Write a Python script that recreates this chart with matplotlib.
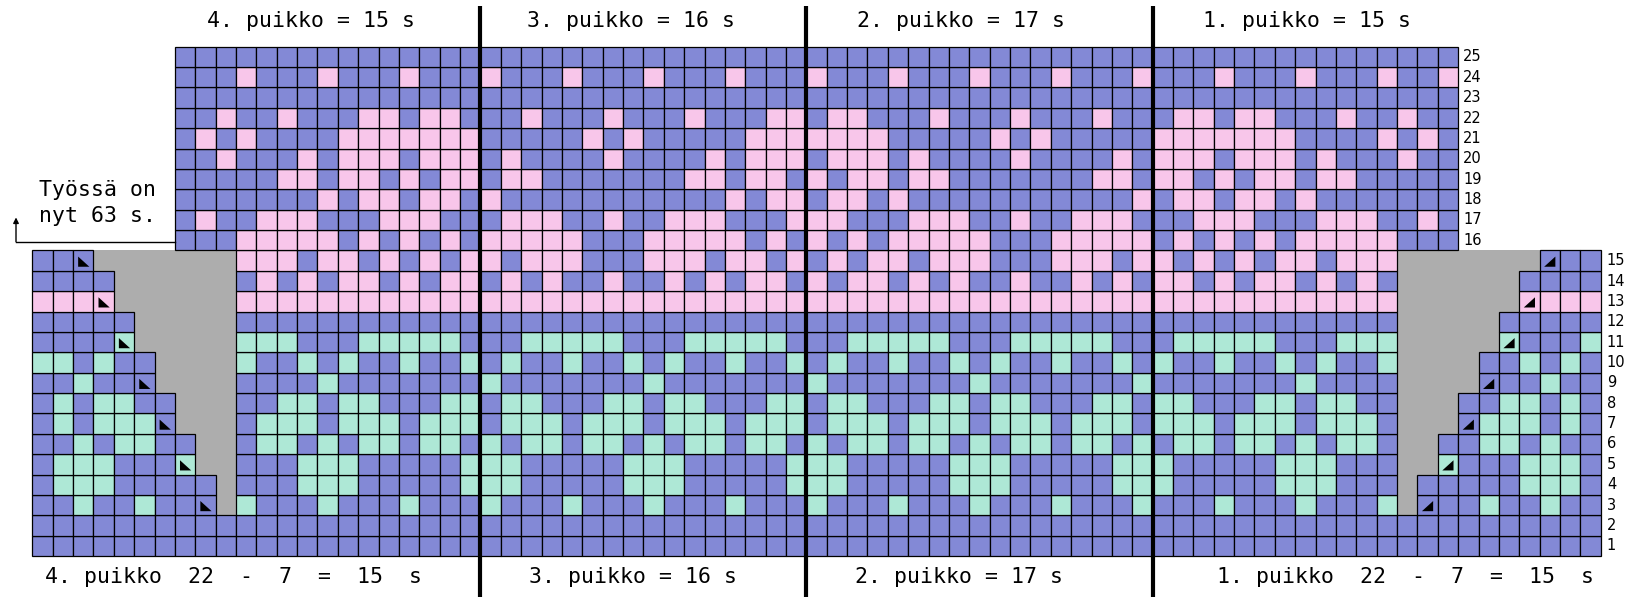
import matplotlib
matplotlib.use("Agg")
import matplotlib.pyplot as plt
from matplotlib.patches import Rectangle, Polygon

# ---------------- colours ----------------
COLORS = {"B": "#8389D6", "P": "#F8C6EA", "G": "#AEE8D6", "X": "#ADADAD"}

# ---------------- data: bottom part, rows 1..15, 77 stitches (cols 0..76) ----------------
row_01 = ("BBBBBBBBBBB" "BBBBBBBBBBB" "BBBBBBBBBBB" "BBBBBBBBBBB" "BBBBBBBBBBB" "BBBBBBBBBBB" "BBBBBBBBBBB")
row_02 = ("BBBBBBBBBBB" "BBBBBBBBBBB" "BBBBBBBBBBB" "BBBBBBBBBBB" "BBBBBBBBBBB" "BBBBBBBBBBB" "BBBBBBBBBBB")
row_03 = ("BBGBBGBBB" "X"
          "GBBBGBBB" "GBBBGBBB" "GBBBGBBB" "GBBBGBBB" "GBBBGBBB" "GBBBGBBB" "GBBBGBBB" "G"
          "X" "BBBGBBGBB")
row_04 = ("BGGGBBBBB" "X"
          "BBBGGGBB" "BBBGGGBB" "BBBGGGBB" "BBBGGGBB" "BBBGGGBB" "BBBGGGBB" "BBBGGGBB" "B"
          "X" "BBBBBGGGB")
row_05 = ("BGGGBBBG" "XX"
          "BBBGGGBB" "BBBGGGBB" "BBBGGGBB" "BBBGGGBB" "BBBGGGBB" "BBBGGGBB" "BBBGGGBB" "B"
          "XX" "GBBBGGGB")
row_06 = ("BBGBGGBB" "XX"
          "BGGBGBGG" "BGGBGBGG" "BGGBGBGG" "BGGBGBGG" "BGGBGBGG" "BGGBGBGG" "BGGBGBGG" "B"
          "XX" "BBGGBGBB")
row_07 = ("BGBGGGB" "XXX"
          "BGGGBGGG" "BGGGBGGG" "BGGGBGGG" "BGGGBGGG" "BGGGBGGG" "BGGGBGGG" "BGGGBGGG" "B"
          "XXX" "BGGGBGB")
row_08 = ("BGBGGBB" "XXX"
          "BBGGBGGB" "BBGGBGGB" "BBGGBGGB" "BBGGBGGB" "BBGGBGGB" "BBGGBGGB" "BBGGBGGB" "B"
          "XXX" "BBGGBGB")
row_09 = ("BBGBBB" "XXXX"
          "BBBBGBBB" "BBBBGBBB" "BBBBGBBB" "BBBBGBBB" "BBBBGBBB" "BBBBGBBB" "BBBBGBBB" "B"
          "XXXX" "BBBGBB")
row_10 = ("GGBGBB" "XXXX"
          "GBBGBGBB" "GBBGBGBB" "GBBGBGBB" "GBBGBGBB" "GBBGBGBB" "GBBGBGBB" "GBBGBGBB" "G"
          "XXXX" "BBGBGB")
row_11 = ("BBBBG" "XXXXX"
          "GGGBBBGG" "GGGBBBGG" "GGGBBBGG" "GGGBBBGG" "GGGBBBGG" "GGGBBBGG" "GGGBBBGG" "G"
          "XXXXX" "GBBBG")
row_12 = ("BBBBB" "XXXXX"
          "BBBBBBBB" "BBBBBBBB" "BBBBBBBB" "BBBBBBBB" "BBBBBBBB" "BBBBBBBB" "BBBBBBBB" "B"
          "XXXXX" "BBBBB")
row_13 = ("PPPP" "XXXXXX"
          "PPPPPPPP" "PPPPPPPP" "PPPPPPPP" "PPPPPPPP" "PPPPPPPP" "PPPPPPPP" "PPPPPPPP" "P"
          "XXXXXX" "PPPP")
row_14 = ("BBBB" "XXXXXX"
          "BPBPBPPBPB" "PPBPBPBBPB" "BPBPBPPBPB" "PPBPBPBBPB" "BPBPBPPBPB" "PPBPBPB"
          "XXXXXX" "BBBB")
row_15 = ("BBB" "XXXXXXX"
          "PPPBPPBPBP" "BPPBPPPBBB" "PPPBPPBPBP" "BPPBPPPBBB" "PPPBPPBPBP" "BPPBPPP"
          "XXXXXXX" "BBB")
bottom_rows = [row_01, row_02, row_03, row_04, row_05, row_06, row_07, row_08,
               row_09, row_10, row_11, row_12, row_13, row_14, row_15]

# ---------------- data: top part, rows 16..25, 63 stitches (cols 7..69) ----------------
TOP_FIRST_COL = 7
row_16 = "BBBPPPPPBP" "BPBPBPPPPP" "BBBPPPPPBP" "BPBPBPPPPP" "BBBPPPPPBP" "BPBPBPPPPP" "BBB"
row_17 = "BPBBPPPBBB" "PPPBBBPPPB" "BPBBPPPBBB" "PPPBBBPPPB" "BPBBPPPBBB" "PPPBBBPPPB" "BPB"
row_18 = "BBBBBBBPBP" "PBPPBPBBBB" "BBBBBBBPBP" "PBPPBPBBBB" "BBBBBBBPBP" "PBPPBPBBBB" "BBB"
row_19 = "BBBBBPPBPP" "BPBPPBPPBB" "BBBBBPPBPP" "BPBPPBPPBB" "BBBBBPPBPP" "BPBPPBPPBB" "BBB"
row_20 = "BBPBBBPBPP" "PBPPPBPBBB" "BPBBBBPBPP" "PBPPPBPBBB" "BPBBBBPBPP" "PBPPPBPBBB" "PBB"
row_21 = "BPBPBBBBPP" "PPPPPBBBBB" "PBPBBBBBPP" "PPPPPBBBBB" "PBPBBBBBPP" "PPPPPBBBBP" "BPB"
row_22 = "BBPBBPBBBP" "PBPPBBBPBB" "BPBBBPBBBP" "PBPPBBBPBB" "BPBBBPBBBP" "PBPPBBBPBB" "PBB"
row_23 = "BBBBBBBBBB" "BBBBBBBBBB" "BBBBBBBBBB" "BBBBBBBBBB" "BBBBBBBBBB" "BBBBBBBBBB" "BBB"
row_24 = "BBBPBBBPBB" "BPBBBPBBBP" "BBBPBBBPBB" "BPBBBPBBBP" "BBBPBBBPBB" "BPBBBPBBBP" "BBP"
row_25 = "BBBBBBBBBB" "BBBBBBBBBB" "BBBBBBBBBB" "BBBBBBBBBB" "BBBBBBBBBB" "BBBBBBBBBB" "BBB"
top_rows = [row_16, row_17, row_18, row_19, row_20, row_21, row_22, row_23, row_24, row_25]

# decrease symbols (row, col)
dec_left = [(15, 2), (13, 3), (11, 4), (9, 5), (7, 6), (5, 7), (3, 8)]
dec_right = [(15, 74), (13, 73), (11, 72), (9, 71), (7, 70), (5, 69), (3, 68)]

# section boundaries (thick lines) and labels
section_lines = [22, 38, 55]
top_titles = ["4. puikko = 15 s", "3. puikko = 16 s", "2. puikko = 17 s", "1. puikko = 15 s"]
top_title_x = [13.7, 29.4, 45.6, 62.6]
bottom_titles = ["4. puikko  22  -  7  =  15  s", "3. puikko = 16 s",
                 "2. puikko = 17 s", "1. puikko  22  -  7  =  15  s"]
bottom_title_x = [9.9, 29.5, 45.5, 67.4]
note_lines = ["Työssä on", "nyt 63 s."]

for name, r in zip(range(1, 16), bottom_rows):
    if len(r) != 77:
        print("bottom row", name, "length", len(r))
for name, r in zip(range(16, 26), top_rows):
    if len(r) != 63:
        print("top row", name, "length", len(r))

# ---------------- figure ----------------
W, H, DPI = 1625, 597, 100
CELL = 20.37
X_LEFT_PX, Y_BOTTOM_PX = 32.3, 556.0
fig = plt.figure(figsize=(W / DPI, H / DPI), dpi=DPI)
ax = fig.add_axes([0, 0, 1, 1])
ax.set_xlim(-X_LEFT_PX / CELL, (W - X_LEFT_PX) / CELL)
ax.set_ylim((Y_BOTTOM_PX - H) / CELL, Y_BOTTOM_PX / CELL)
ax.axis("off")

EDGE_LW = 0.9

def draw_cell(c, v, code):
    if code == "X":
        ax.add_patch(Rectangle((c, v), 1, 1, facecolor=COLORS["X"], edgecolor="none", zorder=1))
    else:
        ax.add_patch(Rectangle((c, v), 1, 1, facecolor=COLORS[code], edgecolor="black",
                               linewidth=EDGE_LW, zorder=2))

for ri, r in enumerate(bottom_rows):
    for c, code in enumerate(r):
        draw_cell(c, ri, code)
for ri, r in enumerate(top_rows):
    for i, code in enumerate(r):
        draw_cell(TOP_FIRST_COL + i, 15 + ri, code)

for (row, col) in dec_left:
    v = row - 1
    ax.add_patch(Polygon([(col + 0.25, v + 0.20), (col + 0.25, v + 0.70), (col + 0.80, v + 0.20)],
                         closed=True, facecolor="black", edgecolor="none", zorder=3))
for (row, col) in dec_right:
    v = row - 1
    ax.add_patch(Polygon([(col + 0.77, v + 0.20), (col + 0.77, v + 0.70), (col + 0.22, v + 0.20)],
                         closed=True, facecolor="black", edgecolor="none", zorder=3))

for xl in section_lines:
    ax.plot([xl, xl], [-2.0, 27.0], color="black", linewidth=3.0, solid_capstyle="butt", zorder=4)

MONO = "DejaVu Sans Mono"
FS = 15.5
for t, x in zip(top_titles, top_title_x):
    ax.text(x, 26.25, t, ha="center", va="center", fontsize=FS, family=MONO)
for t, x in zip(bottom_titles, bottom_title_x):
    ax.text(x, -1.03, t, ha="center", va="center", fontsize=FS, family=MONO)

# row numbers
for r in range(1, 16):
    ax.text(77.3, r - 0.5, str(r), ha="left", va="center", fontsize=10.5, family="DejaVu Sans")
for r in range(16, 26):
    ax.text(70.25, r - 0.5, str(r), ha="left", va="center", fontsize=10.5, family="DejaVu Sans")

# note with arrow
ax.text(3.2, 17.97, note_lines[0], ha="center", va="center", fontsize=FS, family=MONO)
ax.text(3.2, 16.69, note_lines[1], ha="center", va="center", fontsize=FS, family=MONO)
ax.plot([-0.80, 7.0], [15.43, 15.43], color="black", linewidth=1.0, zorder=4)
ax.annotate("", xy=(-0.80, 16.62), xytext=(-0.80, 15.43),
            arrowprops=dict(arrowstyle="-|>", color="black", lw=1.0, mutation_scale=8,
                            shrinkA=0, shrinkB=0))

fig.savefig("out.png", dpi=DPI)
